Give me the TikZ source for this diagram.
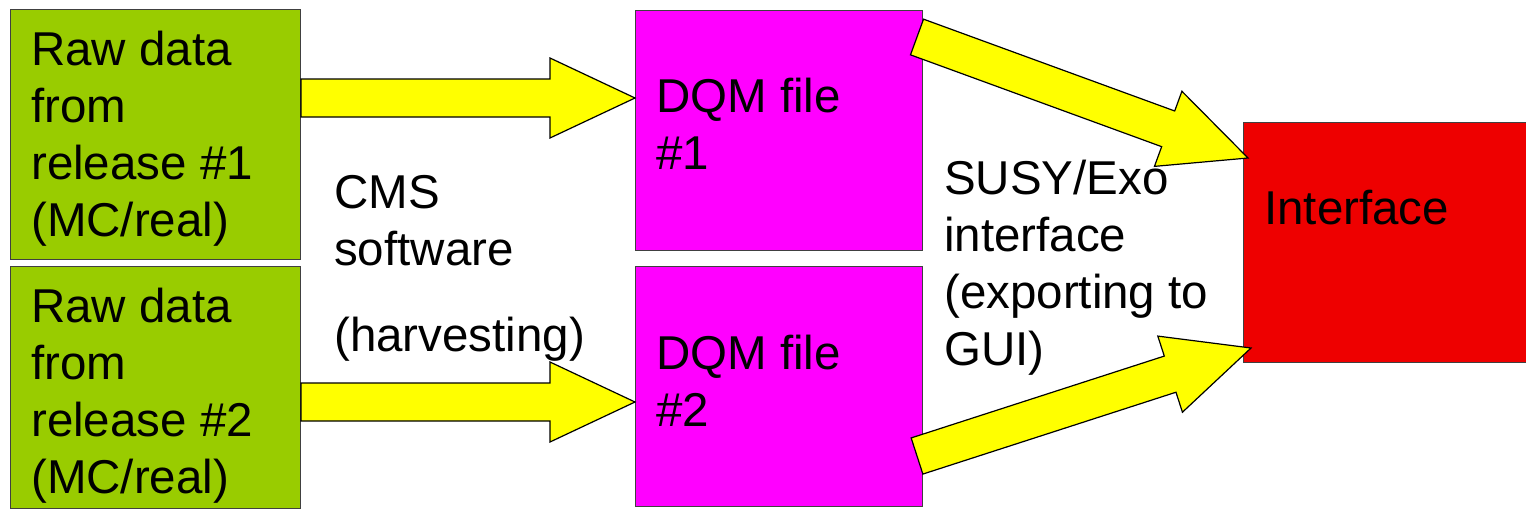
\documentclass[tikz,border=0pt]{standalone}
\usepackage{fontspec}
\setmainfont{Liberation Sans}
\usetikzlibrary{calc}

\definecolor{rawgreen}{HTML}{99CC00}
\definecolor{dqmmagenta}{HTML}{FF00FF}
\definecolor{ifacered}{HTML}{EE0000}
\definecolor{flowyellow}{HTML}{FFFF00}

\tikzset{
  box/.style={draw=black!75, line width=1pt, anchor=north west, inner sep=0pt},
  boxtext/.style={anchor=north west, inner sep=0pt, align=left,
    font=\fontsize{47.5}{57}\selectfont},
  fatarrow/.style={draw=black, line width=1.2pt, fill=flowyellow, line join=miter},
}

% fat block arrow from #1 (tail) to #2 (tip)
\newcommand{\fatarrow}[2]{%
  \draw[fatarrow] ($(#1)!19pt!90:(#2)$)
    -- ($(#2)!85pt!(#1)!19pt!90:(#2)$)
    -- ($(#2)!85pt!(#1)!40pt!90:(#2)$)
    -- (#2)
    -- ($(#2)!85pt!(#1)!40pt!-90:(#2)$)
    -- ($(#2)!85pt!(#1)!19pt!-90:(#2)$)
    -- ($(#1)!19pt!-90:(#2)$) -- cycle;}

\begin{document}
\begin{tikzpicture}[x=1pt, y=-1pt]
  \useasboundingbox (0,0) rectangle (1526,509);

  % Input boxes
  \node[box, fill=rawgreen, minimum width=290pt, minimum height=250pt] (raw1) at (10,9) {};
  \node[box, fill=rawgreen, minimum width=290pt, minimum height=242pt] (raw2) at (10,266) {};

  % DQM files
  \node[box, fill=dqmmagenta, minimum width=287pt, minimum height=240pt] (dqm1) at (635,10) {};
  \node[box, fill=dqmmagenta, minimum width=287pt, minimum height=240pt] (dqm2) at (635,266) {};

  % Output
  \node[box, fill=ifacered, minimum width=290pt, minimum height=240pt] (iface) at (1243,122) {};

  % Box texts
  \node[boxtext] (raw1txt) at ($(raw1.north west)+(21,22)$) {Raw data\\from\\release \#1\\(MC/real)};
  \node[boxtext] (raw2txt) at ($(raw2.north west)+(21,22)$) {Raw data\\from\\release \#2\\(MC/real)};
  \node[boxtext] (dqm1txt) at ($(dqm1.north west)+(21,68)$) {DQM file\\\#1};
  \node[boxtext] (dqm2txt) at ($(dqm2.north west)+(21,69)$) {DQM file\\\#2};
  \node[boxtext] (ifacetxt) at ($(iface.north west)+(21,68)$) {Interface};

  % Step labels
  \node[boxtext] (cmstxt) at (334,175) {CMS\\software\\[29pt](harvesting)};
  \node[boxtext] (susytxt) at (944,160) {SUSY/Exo\\interface\\(exporting to\\GUI)};

  % Arrow ends
  \coordinate (h1s) at ($(raw1.north east)+(0,89)$);
  \coordinate (h1e) at ($(dqm1.north west)+(0,88)$);
  \coordinate (h2s) at ($(raw2.north east)+(0,136)$);
  \coordinate (h2e) at ($(dqm2.north west)+(0,136)$);
  \coordinate (d1s) at ($(dqm1.north east)+(-6,27)$);
  \coordinate (d1e) at ($(iface.north west)+(5,36)$);
  \coordinate (d2s) at ($(dqm2.north east)+(-6,190)$);
  \coordinate (d2e) at ($(iface.north west)+(8,226)$);

  % Draw arrows
  \fatarrow{h1s}{h1e}
  \fatarrow{h2s}{h2e}
  \fatarrow{d1s}{d1e}
  \fatarrow{d2s}{d2e}
\end{tikzpicture}
\end{document}
